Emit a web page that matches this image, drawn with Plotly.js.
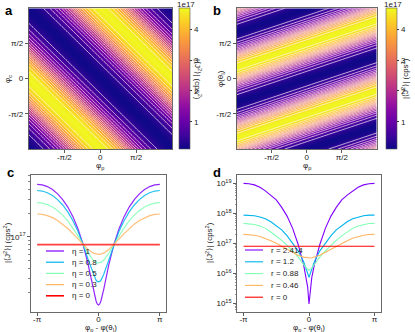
<!DOCTYPE html>
<html>
<head>
<meta charset="utf-8">
<script src="https://cdn.plot.ly/plotly-3.0.1.min.js"></script>
<style>
  body { margin: 0; background: #fff; }
  #chart { width: 415px; height: 332px; }
</style>
</head>
<body>
<div id="chart"></div>
<script>
const W = 415, H = 332;
const PI = Math.PI;
const FONT = 'Liberation Sans, Arial, sans-serif';

// |<J^2>| along the phase sum, 7.5 deg steps from 0 to 352.5 deg (units 1e17)
const mapProfile = [0.129, 0.148, 0.200, 0.270, 0.355, 0.450, 0.562, 0.700, 0.851, 1.040, 1.260, 1.500,
  1.780, 2.080, 2.400, 2.780, 3.160, 3.500, 3.800, 4.050, 4.270, 4.440, 4.570, 4.630,
  4.650, 4.630, 4.570, 4.440, 4.270, 4.050, 3.800, 3.500, 3.160, 2.780, 2.400, 2.080,
  1.780, 1.500, 1.260, 1.040, 0.851, 0.700, 0.562, 0.450, 0.355, 0.270, 0.200, 0.148];
const mapTicks = [1, 2, 3, 4];

// phase offset phi_p - phi(theta_I), degrees
const phaseDeg = [-180, -165, -150, -135, -120, -105, -90, -75, -60, -45, -30, -15, -7.5, -3.75, 0,
  3.75, 7.5, 15, 30, 45, 60, 75, 90, 105, 120, 135, 150, 165, 180];

// panel c, units 1e17
const etaLabels = ['η = 1', 'η = 0.8', 'η = 0.5', 'η = 0.3', 'η = 0'];
const eta1 = [4.650, 4.573, 4.347, 3.989, 3.522, 2.978, 2.394, 1.810, 1.266, 0.798, 0.440, 0.214, 0.157, 0.142, 0.138,
  0.142, 0.157, 0.214, 0.440, 0.798, 1.266, 1.810, 2.394, 2.978, 3.522, 3.989, 4.347, 4.573, 4.650];
const eta08 = [3.880, 3.818, 3.638, 3.351, 2.977, 2.542, 2.075, 1.608, 1.172, 0.799, 0.512, 0.332, 0.285, 0.274, 0.270,
  0.274, 0.285, 0.332, 0.512, 0.799, 1.172, 1.608, 2.075, 2.542, 2.977, 3.351, 3.638, 3.818, 3.880];
const eta05 = [2.725, 2.686, 2.574, 2.394, 2.161, 1.889, 1.597, 1.305, 1.033, 0.799, 0.620, 0.507, 0.478, 0.471, 0.469,
  0.471, 0.478, 0.507, 0.620, 0.799, 1.033, 1.305, 1.597, 1.889, 2.161, 2.394, 2.574, 2.686, 2.725];
const eta03 = [1.955, 1.932, 1.864, 1.757, 1.616, 1.453, 1.278, 1.103, 0.940, 0.800, 0.692, 0.624, 0.607, 0.603, 0.601,
  0.603, 0.607, 0.624, 0.692, 0.800, 0.940, 1.103, 1.278, 1.453, 1.616, 1.757, 1.864, 1.932, 1.955];
const eta0 = phaseDeg.map(() => 0.8);

// panel d, units 1e17
const rLabels = ['r = 2.414', 'r = 1.2', 'r = 0.88', 'r = 0.46', 'r = 0'];
const r2414 = [100, 97.7, 89.1, 74.1, 56.2, 40.7, 28.2, 15.8, 7.94, 3.16, 0.933, 0.2, 0.0708, 0.0355, 0.0095,
  0.0355, 0.0708, 0.2, 0.933, 3.16, 7.94, 15.8, 28.2, 40.7, 56.2, 74.1, 89.1, 97.7, 100];
const r12 = [8.71, 8.71, 8.32, 7.59, 6.61, 5.25, 3.98, 2.82, 1.78, 1.0, 0.562, 0.251, 0.141, 0.1, 0.0741,
  0.1, 0.141, 0.251, 0.562, 1.0, 1.78, 2.82, 3.98, 5.25, 6.61, 7.59, 8.32, 8.71, 8.71];
const r088 = [4.65, 4.57, 4.27, 3.8, 3.16, 2.4, 1.78, 1.26, 0.851, 0.562, 0.355, 0.2, 0.148, 0.135, 0.129,
  0.135, 0.148, 0.2, 0.355, 0.562, 0.851, 1.26, 1.78, 2.4, 3.16, 3.8, 4.27, 4.57, 4.65];
const r046 = [2.0, 1.97, 1.86, 1.70, 1.48, 1.23, 1.0, 0.794, 0.631, 0.501, 0.398, 0.347, 0.331, 0.324, 0.324,
  0.324, 0.331, 0.347, 0.398, 0.501, 0.631, 0.794, 1.0, 1.23, 1.48, 1.70, 1.86, 1.97, 2.0];
const r0 = phaseDeg.map(() => 0.8);

const lineColors = ['#8000ff', '#00b4eb', '#80ffb4', '#ffb462', '#ff0000'];

const plasma = [[0, '#0d0887'], [0.1, '#41049d'], [0.2, '#6a00a8'], [0.3, '#8f0da4'], [0.4, '#b12a90'],
  [0.5, '#cc4778'], [0.6, '#e16462'], [0.7, '#f2844b'], [0.8, '#fca636'], [0.9, '#fcce25'], [1, '#f0f921']];

const px = x => x / W;
const py = y => 1 - y / H;
const rad = phaseDeg.map(d => d * PI / 180);

// grids for the two maps (index steps chosen so the phase lands on the profile steps)
const gxA = Array.from({ length: 49 }, (_, i) => -PI + i * PI / 24);
const gxB = Array.from({ length: 33 }, (_, i) => -PI + i * PI / 16);
const gyB = Array.from({ length: 97 }, (_, j) => -PI + j * PI / 48);
// a: phase = phi_p + phi_c ; b: phase = 2/3 phi_p - 2 phi(theta_I)
const zA = gxA.map((_, j) => gxA.map((_, i) => mapProfile[(i + j) % 48]));
const zB = gyB.map((_, j) => gxB.map((_, i) => mapProfile[(((32 + i - j) % 48) + 48) % 48]));

function mapTraces(x, y, z, xa, ya, cbX) {
  return [{
    type: 'heatmap', x: x, y: y, z: z, xaxis: xa, yaxis: ya,
    colorscale: plasma, zmin: 0.11, zmax: 4.68, zsmooth: 'best', hoverinfo: 'skip',
    colorbar: {
      x: px(cbX), xanchor: 'left', y: py(8.3), yanchor: 'top', len: 141 / H, lenmode: 'fraction',
      thickness: 11, thicknessmode: 'pixels', xpad: 0, ypad: 0, outlinewidth: 0.6, outlinecolor: '#555',
      tickmode: 'array', tickvals: mapTicks, ticks: 'outside', ticklen: 2.5, tickcolor: '#333',
      tickfont: { size: 8, family: FONT, color: '#222' }
    }
  }, {
    type: 'contour', x: x, y: y, z: z, xaxis: xa, yaxis: ya, showscale: false, hoverinfo: 'skip',
    autocontour: false, contours: { coloring: 'none', start: 0.45, end: 4.5, size: 0.27 },
    line: { color: 'white', width: 0.7, smoothing: 0 }
  }];
}

const cSeries = [eta1, eta08, eta05, eta03, eta0];
const dSeries = [r2414, r12, r088, r046, r0];

const traces = [
  ...mapTraces(gxA, gxA, zA, 'x', 'y', 179),
  ...mapTraces(gxB, gyB, zB, 'x2', 'y2', 386),
  ...cSeries.map((s, k) => ({
    type: 'scatter', mode: 'lines', x: rad, y: s.map(v => v * 1e17), xaxis: 'x3', yaxis: 'y3',
    line: { color: lineColors[k], width: k === 4 ? 1.6 : 1.2 }, opacity: k === 4 ? 0.75 : 0.85,
    name: etaLabels[k], showlegend: false
  })),
  ...dSeries.map((s, k) => ({
    type: 'scatter', mode: 'lines', x: rad, y: s.map(v => v * 1e17), xaxis: 'x4', yaxis: 'y4',
    line: { color: lineColors[k], width: 1.1 }, name: rLabels[k], showlegend: false
  }))
];

const tickFont = { size: 8, family: FONT, color: '#222' };
const frame = { showline: true, mirror: true, linecolor: '#444', linewidth: 0.8, showgrid: false, zeroline: false,
  ticks: 'outside', ticklen: 3, tickwidth: 0.8, tickcolor: '#333', tickfont: tickFont };

const halfTicks = { tickmode: 'array', tickvals: [-PI / 2, 0, PI / 2], ticktext: ['-π/2', '0', 'π/2'] };
const piTicks = { tickmode: 'array', tickvals: [-PI, 0, PI], ticktext: ['-π', '0', 'π'] };

const cMinor = [2e16, 3e16, 4e16, 5e16, 6e16, 7e16, 8e16, 9e16, 2e17, 3e17, 4e17, 5e17, 6e17];
const dMinor = [];
[1e14, 1e15, 1e16, 1e17, 1e18].forEach(d => [2, 3, 4, 5, 6, 7, 8, 9].forEach(m => dMinor.push(m * d)));

const jLabel = '|⟨J<sup>2</sup>⟩| (cps<sup>2</sup>)';
const offLabel = 'φ<sub>p</sub> - φ(θ<sub>I</sub>)';

const layout = {
  width: W, height: H, margin: { l: 0, r: 0, t: 0, b: 0 },
  paper_bgcolor: '#fff', plot_bgcolor: '#fff', showlegend: false,
  font: { family: FONT, size: 8, color: '#222' },
  xaxis: { ...frame, ...halfTicks, domain: [px(28.5), px(172)], range: [-PI, PI], anchor: 'y', ticklabelstandoff: -2 },
  yaxis: { ...frame, ...halfTicks, domain: [py(149), py(8.3)], range: [-PI, PI], anchor: 'x' },
  xaxis2: { ...frame, ...halfTicks, domain: [px(236.5), px(377)], range: [-PI, PI], anchor: 'y2', ticklabelstandoff: -2 },
  yaxis2: { ...frame, ...halfTicks, domain: [py(149), py(8.3)], range: [-PI, PI], anchor: 'x2' },
  xaxis3: { ...frame, ...piTicks, domain: [px(31), px(166)], range: [-1.1 * PI, 1.1 * PI], anchor: 'y3', ticklabelstandoff: -3 },
  yaxis3: { ...frame, type: 'log', domain: [py(312), py(175)], range: [16.05, 17.785], anchor: 'x3',
    tickmode: 'array', tickvals: [1e17], ticktext: ['10<sup>17</sup>'],
    minor: { tickmode: 'array', tickvals: cMinor, ticks: 'outside', ticklen: 1.8, tickwidth: 0.6, tickcolor: '#333' } },
  xaxis4: { ...frame, ...piTicks, domain: [px(237), px(381)], range: [-1.1 * PI, 1.1 * PI], anchor: 'y4', ticklabelstandoff: -3 },
  yaxis4: { ...frame, type: 'log', domain: [py(312), py(175)], range: [14.71, 19.28], anchor: 'x4',
    tickmode: 'array', tickvals: [1e15, 1e16, 1e17, 1e18, 1e19],
    ticktext: ['10<sup>15</sup>', '10<sup>16</sup>', '10<sup>17</sup>', '10<sup>18</sup>', '10<sup>19</sup>'],
    minor: { tickmode: 'array', tickvals: dMinor, ticks: 'outside', ticklen: 1.5, tickwidth: 0.5, tickcolor: '#333' } },
  annotations: [],
  shapes: []
};

function note(text, x, y, opts) {
  layout.annotations.push(Object.assign({ text: text, x: px(x), y: py(y), xref: 'paper', yref: 'paper',
    xanchor: 'center', yanchor: 'middle', showarrow: false, font: { size: 8, family: FONT, color: '#222' } }, opts || {}));
}

// panel letters
[['a', 3, 1], ['b', 211, 1], ['c', 5, 163], ['d', 211, 163]].forEach(([t, x, y]) => {
  note('<b>' + t + '</b>', x, y, { xanchor: 'left', yanchor: 'top', font: { size: 13, family: FONT, color: '#000' } });
});
// axis titles
note('φ<sub>p</sub>', 100, 166);
note('φ<sub>p</sub>', 307, 166);
note('φ<sub>c</sub>', 8, 79, { textangle: -90 });
note('φ(θ<sub>I</sub>)', 221, 79, { textangle: -90 });
note(offLabel, 101, 328);
note(offLabel, 309, 328);
note(jLabel, 7, 243, { textangle: -90 });
note(jLabel, 209, 243, { textangle: -90 });
// colorbar exponents and titles
note('1e17', 186, 4);
note('1e17', 393, 4);
note(jLabel, 198, 79, { textangle: 90 });
note(jLabel, 405, 79, { textangle: -90 });

// hand-made legends (compact rows)
function legend(labels, x0, y0, step, widthC) {
  labels.forEach((t, k) => {
    const y = y0 + k * step;
    layout.shapes.push({ type: 'line', xref: 'paper', yref: 'paper', x0: px(x0), x1: px(x0 + 18), y0: py(y), y1: py(y),
      line: { color: lineColors[k], width: widthC(k) } });
    note(t, x0 + 24, y, { xanchor: 'left' });
  });
}
legend(etaLabels, 46, 251, 11.2, k => (k === 4 ? 1.6 : 1.2));
legend(rLabels, 245, 250, 11.8, () => 1.1);

Plotly.newPlot('chart', traces, layout, { staticPlot: true, displayModeBar: false });
</script>
</body>
</html>
